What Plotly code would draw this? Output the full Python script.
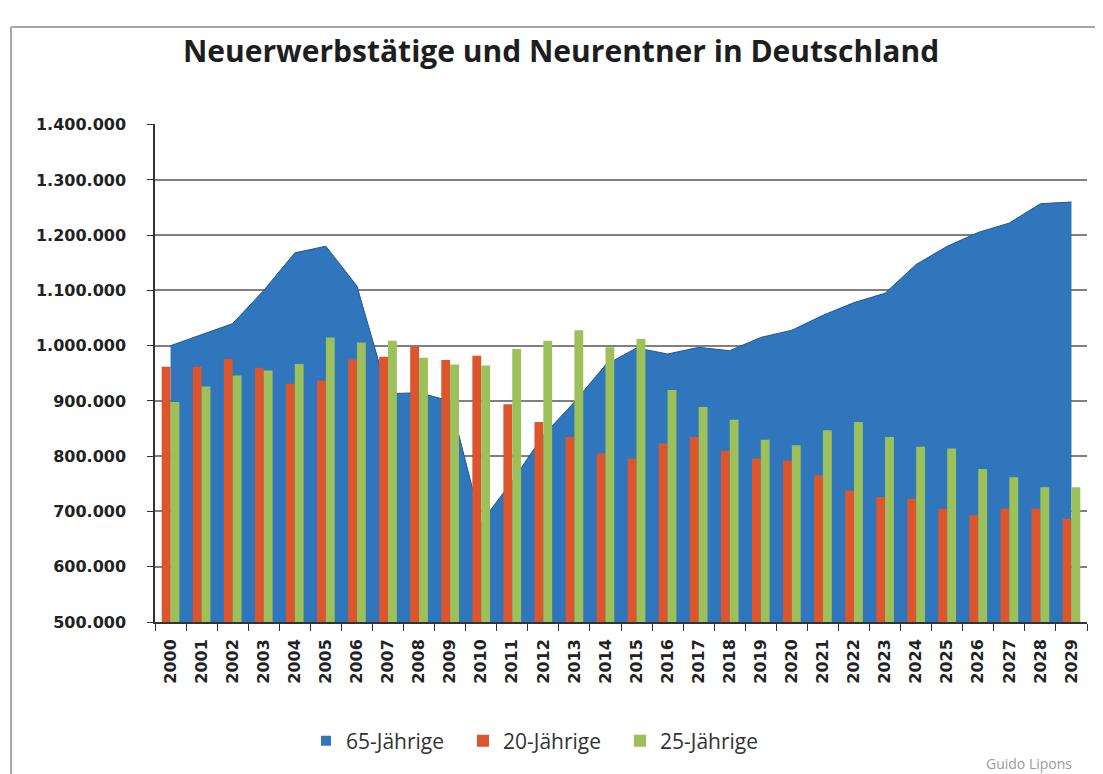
import plotly.graph_objects as go

# ---------------- data ----------------
years = [str(y) for y in range(2000, 2030)]

rentner_65 = [1000000, 1020000, 1040000, 1100000, 1168000, 1180000, 1108000, 913000, 915000, 900000,
              680000, 755000, 838000, 898000, 965000, 996000, 985000, 997000, 991000, 1015000,
              1028000, 1055000, 1078000, 1095000, 1147000, 1180000, 1205000, 1222000, 1257000, 1260000]

jahrige_20 = [962000, 962000, 976000, 960000, 931000, 937000, 975000, 980000, 998000, 974000,
              982000, 894000, 862000, 835000, 805000, 796000, 823000, 835000, 810000, 796000,
              792000, 765000, 738000, 726000, 723000, 705000, 693000, 705000, 705000, 687000]

jahrige_25 = [898000, 926000, 946000, 955000, 967000, 1015000, 1006000, 1009000, 978000, 966000,
              964000, 994000, 1009000, 1028000, 997000, 1012000, 920000, 889000, 866000, 830000,
              820000, 847000, 862000, 835000, 817000, 814000, 777000, 762000, 744000, 744000]

y_ticks = [500000, 600000, 700000, 800000, 900000, 1000000, 1100000, 1200000, 1300000, 1400000]

title_text = "Neuerwerbstätige und Neurentner in Deutschland"
series_names = ["65-Jährige", "20-Jährige", "25-Jährige"]
credit_text = "Guido Lipons"

# ---------------- styling / layout ----------------
# the page body has an 8px margin, so the figure is drawn 8px in from the window corner
OFF = 8
W, H = 1103 - OFF, 774 - OFF
ML, MR, MT, MB = 155 - OFF, 16, 124 - OFF, 152
PW, PH = W - ML - MR, H - MT - MB


def px(x_win):
    return (x_win - OFF - ML) / PW


def py(y_win):
    return (H - MB - (y_win - OFF)) / PH


BLUE = "#2f76bd"
RED = "#dc552d"
GREEN = "#9cc05a"

fig = go.Figure()

# legend entry (square) for the area series
fig.add_trace(go.Scatter(
    x=[None], y=[None], name=series_names[0],
    mode="markers", marker=dict(symbol="square", size=10, color=BLUE),
    xaxis="x", yaxis="y", legendrank=1,
))

fig.add_trace(go.Scatter(
    x=years, y=rentner_65, name=series_names[0], showlegend=False,
    mode="lines", fill="tozeroy",
    line=dict(color="#22578c", width=1),
    fillcolor=BLUE,
    xaxis="x", yaxis="y",
))

fig.add_trace(go.Bar(
    x=years, y=jahrige_20, name=series_names[1],
    marker=dict(color=RED, line=dict(width=0)),
    xaxis="x", yaxis="y2", legendrank=2,
))

fig.add_trace(go.Bar(
    x=years, y=jahrige_25, name=series_names[2],
    marker=dict(color=GREEN, line=dict(width=0)),
    xaxis="x", yaxis="y2", legendrank=3,
))

yrange = [min(y_ticks), max(y_ticks) + 1200]

fig.update_layout(
    width=W, height=H, autosize=False,
    margin=dict(l=ML, r=MR, t=MT, b=MB, pad=0),
    paper_bgcolor="white", plot_bgcolor="white",
    separators=",.",
    barmode="group", bargap=0.43, bargroupgap=0,
    title=dict(
        text=title_text,
        x=(561 - OFF) / W, xanchor="center", xref="container",
        y=1 - (51 - OFF) / H, yanchor="middle", yref="container",
        font=dict(family="Open Sans", size=30, color="#1e1e1e", weight="bold"),
    ),
    xaxis=dict(
        type="category",
        showgrid=False,
        showline=True, linecolor="#333333", linewidth=1.5,
        ticks="outside", tickson="boundaries", ticklen=7, tickcolor="#333333", tickwidth=1,
        tickangle=-90,
        ticklabelstandoff=9,
        tickfont=dict(family="DejaVu Sans", size=16, color="#222222", weight="bold"),
        range=[-0.5, len(years) - 0.5],
        fixedrange=True,
    ),
    yaxis=dict(
        range=yrange,
        tickvals=y_ticks,
        tickformat=",d",
        showgrid=True, gridcolor="#808080", gridwidth=1.5,
        zeroline=False,
        showline=True, linecolor="#333333", linewidth=1.5,
        ticks="outside", ticklen=6, tickcolor="#333333",
        ticklabelstandoff=18,
        tickfont=dict(family="DejaVu Sans", size=16, color="#222222", weight="bold"),
        fixedrange=True,
    ),
    yaxis2=dict(
        range=yrange, overlaying="y", side="left",
        visible=False, showgrid=False, zeroline=False, fixedrange=True,
    ),
    showlegend=True,
    legend=dict(
        orientation="h",
        x=px(306), xanchor="left",
        y=py(741), yanchor="middle",
        font=dict(family="Open Sans", size=21, color="#333333"),
        traceorder="normal",
        itemwidth=30,
        entrywidth=112,
        bgcolor="rgba(0,0,0,0)",
    ),
    shapes=[
        dict(type="line", xref="paper", yref="paper",
             x0=px(11), x1=px(11), y0=py(27), y1=py(774 + 5),
             line=dict(color="#a6a6a6", width=2)),
        dict(type="line", xref="paper", yref="paper",
             x0=px(11), x1=px(1103 + 5), y0=py(27), y1=py(27),
             line=dict(color="#a6a6a6", width=2)),
    ],
    annotations=[
        dict(text=credit_text, xref="paper", yref="paper",
             x=px(984), y=py(763), xanchor="left", yanchor="middle",
             showarrow=False,
             font=dict(family="Open Sans", size=14, color="#9a9a9a")),
    ],
)

fig.write_html("out.html")
